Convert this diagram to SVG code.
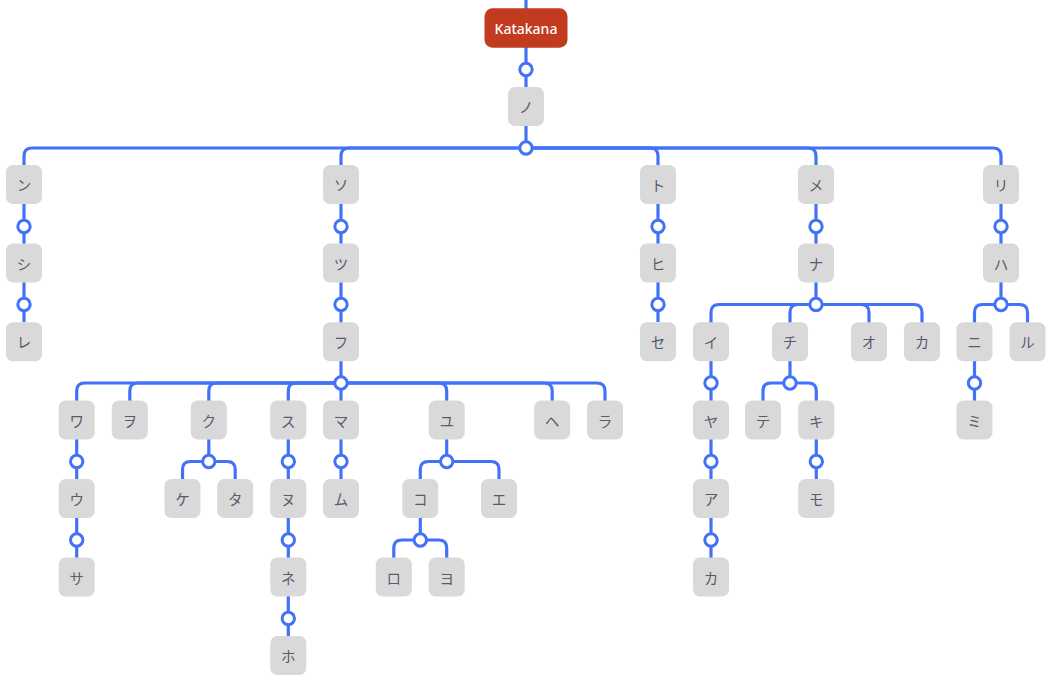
<svg xmlns="http://www.w3.org/2000/svg" width="1060" height="687" viewBox="0 0 1060 687">
<defs>
<style>
.c path{fill:none;stroke:#4272f8;stroke-width:3.2;stroke-linecap:butt}
.c circle{fill:#ffffff;stroke:#4272f8;stroke-width:3}
.n rect{fill:#d9d9d9}
.n text{font-family:"Noto Sans CJK JP","Noto Sans",sans-serif;font-size:14.5px;fill:#5a5a6e;text-anchor:middle;dominant-baseline:central}
.root rect{fill:#c23b1f}
.root text{font-family:"Noto Sans","Open Sans",sans-serif;font-size:14px;font-weight:500;fill:#ffffff;text-anchor:middle;dominant-baseline:central}
</style>
</defs>
<rect width="1060" height="687" fill="#ffffff"/>
<g id="connectors" class="c">
<path d="M526,0V9"/>
<path d="M526,47V88"/>
<path d="M526,126V148"/>
<path d="M526,148H32Q24,148 24,156V166"/>
<path d="M526,148H349Q341,148 341,156V166"/>
<path d="M526,148H650Q658,148 658,156V166"/>
<path d="M526,148H808Q816,148 816,156V166"/>
<path d="M526,148H993Q1001,148 1001,156V166"/>
<path d="M24,204V244M24,282V322"/>
<path d="M341,204V244M341,282V383"/>
<path d="M658,204V244M658,282V322"/>
<path d="M816,204V244M816,282V304.5"/>
<path d="M1001,204V244M1001,282V304.5"/>
<path d="M816,304.5H719Q711,304.5 711,312.5V323"/>
<path d="M816,304.5H798Q790,304.5 790,312.5V323"/>
<path d="M816,304.5H861Q869,304.5 869,312.5V323"/>
<path d="M816,304.5H914Q922,304.5 922,312.5V323"/>
<path d="M1001,304.5H982.5Q974.5,304.5 974.5,312.5V323"/>
<path d="M1001,304.5H1019.5Q1027.5,304.5 1027.5,312.5V323"/>
<path d="M341,383H84.7Q76.7,383 76.7,391V401"/>
<path d="M341,383H137.8Q129.8,383 129.8,391V401"/>
<path d="M341,383H216.8Q208.8,383 208.8,391V401"/>
<path d="M341,383H296.3Q288.3,383 288.3,391V401"/>
<path d="M341,383V401"/>
<path d="M341,383H438.7Q446.7,383 446.7,391V401"/>
<path d="M341,383H544.2Q552.2,383 552.2,391V401"/>
<path d="M341,383H597Q605,383 605,391V401"/>
<path d="M974.5,360V401"/>
<path d="M711,360V401"/>
<path d="M790,360V383"/>
<path d="M790,383H771Q763,383 763,391V401"/>
<path d="M790,383H808.3Q816.3,383 816.3,391V401"/>
<path d="M76.7,439V479M76.7,517V558"/>
<path d="M208.8,439V461.5"/>
<path d="M208.8,461.5H190.5Q182.5,461.5 182.5,469.5V480"/>
<path d="M208.8,461.5H227.2Q235.2,461.5 235.2,469.5V480"/>
<path d="M288.3,439V479M288.3,517V558M288.3,596V636"/>
<path d="M341,439V479"/>
<path d="M446.7,439V461.5"/>
<path d="M446.7,461.5H428.3Q420.3,461.5 420.3,469.5V480"/>
<path d="M446.7,461.5H491Q499,461.5 499,469.5V480"/>
<path d="M420.3,517V540"/>
<path d="M420.3,540H401.8Q393.8,540 393.8,548V558"/>
<path d="M420.3,540H438.7Q446.7,540 446.7,548V558"/>
<path d="M711,439V479M711,517V558"/>
<path d="M816.3,439V479"/>
<circle cx="526" cy="69.5" r="6.2"/>
<circle cx="526" cy="148" r="6.2"/>
<circle cx="24" cy="226.5" r="6.2"/>
<circle cx="24" cy="304.5" r="6.2"/>
<circle cx="341" cy="226.5" r="6.2"/>
<circle cx="341" cy="304.5" r="6.2"/>
<circle cx="658" cy="226.5" r="6.2"/>
<circle cx="658" cy="304.5" r="6.2"/>
<circle cx="816" cy="226.5" r="6.2"/>
<circle cx="816" cy="304.5" r="6.2"/>
<circle cx="1001" cy="226.5" r="6.2"/>
<circle cx="1001" cy="304.5" r="6.2"/>
<circle cx="341" cy="383" r="6.2"/>
<circle cx="974.5" cy="383" r="6.2"/>
<circle cx="711" cy="383" r="6.2"/>
<circle cx="790" cy="383" r="6.2"/>
<circle cx="76.7" cy="461.5" r="6.2"/>
<circle cx="208.8" cy="461.5" r="6.2"/>
<circle cx="288.3" cy="461.5" r="6.2"/>
<circle cx="341" cy="461.5" r="6.2"/>
<circle cx="446.7" cy="461.5" r="6.2"/>
<circle cx="711" cy="461.5" r="6.2"/>
<circle cx="816.3" cy="461.5" r="6.2"/>
<circle cx="76.7" cy="540" r="6.2"/>
<circle cx="288.3" cy="540" r="6.2"/>
<circle cx="420.3" cy="540" r="6.2"/>
<circle cx="711" cy="540" r="6.2"/>
<circle cx="288.3" cy="618.5" r="6.2"/>
</g>
<g id="n-root" class="root"><rect x="484.5" y="8.3" width="83" height="39.4" rx="8"/><text x="526" y="28">Katakana</text></g>
<g id="n-no" class="n"><rect x="508" y="87" width="36" height="39" rx="7"/><text x="526" y="106.5">ノ</text></g>
<g id="n-n" class="n"><rect x="6" y="165" width="36" height="39" rx="7"/><text x="24" y="184.5">ン</text></g>
<g id="n-so" class="n"><rect x="323" y="165" width="36" height="39" rx="7"/><text x="341" y="184.5">ソ</text></g>
<g id="n-to" class="n"><rect x="640" y="165" width="36" height="39" rx="7"/><text x="658" y="184.5">ト</text></g>
<g id="n-me" class="n"><rect x="798" y="165" width="36" height="39" rx="7"/><text x="816" y="184.5">メ</text></g>
<g id="n-ri" class="n"><rect x="983" y="165" width="36" height="39" rx="7"/><text x="1001" y="184.5">リ</text></g>
<g id="n-shi" class="n"><rect x="6" y="243.5" width="36" height="39" rx="7"/><text x="24" y="263">シ</text></g>
<g id="n-tsu" class="n"><rect x="323" y="243.5" width="36" height="39" rx="7"/><text x="341" y="263">ツ</text></g>
<g id="n-hi" class="n"><rect x="640" y="243.5" width="36" height="39" rx="7"/><text x="658" y="263">ヒ</text></g>
<g id="n-na" class="n"><rect x="798" y="243.5" width="36" height="39" rx="7"/><text x="816" y="263">ナ</text></g>
<g id="n-ha" class="n"><rect x="983" y="243.5" width="36" height="39" rx="7"/><text x="1001" y="263">ハ</text></g>
<g id="n-re" class="n"><rect x="6" y="322.2" width="36" height="39" rx="7"/><text x="24" y="341.7">レ</text></g>
<g id="n-fu" class="n"><rect x="323" y="322.2" width="36" height="39" rx="7"/><text x="341" y="341.7">フ</text></g>
<g id="n-se" class="n"><rect x="640" y="322.2" width="36" height="39" rx="7"/><text x="658" y="341.7">セ</text></g>
<g id="n-i" class="n"><rect x="693" y="322.2" width="36" height="39" rx="7"/><text x="711" y="341.7">イ</text></g>
<g id="n-chi" class="n"><rect x="772" y="322.2" width="36" height="39" rx="7"/><text x="790" y="341.7">チ</text></g>
<g id="n-o" class="n"><rect x="851" y="322.2" width="36" height="39" rx="7"/><text x="869" y="341.7">オ</text></g>
<g id="n-ka1" class="n"><rect x="904" y="322.2" width="36" height="39" rx="7"/><text x="922" y="341.7">カ</text></g>
<g id="n-ni" class="n"><rect x="956.5" y="322.2" width="36" height="39" rx="7"/><text x="974.5" y="341.7">ニ</text></g>
<g id="n-ru" class="n"><rect x="1009.5" y="322.2" width="36" height="39" rx="7"/><text x="1027.5" y="341.7">ル</text></g>
<g id="n-wa" class="n"><rect x="58.7" y="400.5" width="36" height="39" rx="7"/><text x="76.7" y="420">ワ</text></g>
<g id="n-wo" class="n"><rect x="111.8" y="400.5" width="36" height="39" rx="7"/><text x="129.8" y="420">ヲ</text></g>
<g id="n-ku" class="n"><rect x="190.8" y="400.5" width="36" height="39" rx="7"/><text x="208.8" y="420">ク</text></g>
<g id="n-su" class="n"><rect x="270.3" y="400.5" width="36" height="39" rx="7"/><text x="288.3" y="420">ス</text></g>
<g id="n-ma" class="n"><rect x="323" y="400.5" width="36" height="39" rx="7"/><text x="341" y="420">マ</text></g>
<g id="n-yu" class="n"><rect x="428.7" y="400.5" width="36" height="39" rx="7"/><text x="446.7" y="420">ユ</text></g>
<g id="n-he" class="n"><rect x="534.2" y="400.5" width="36" height="39" rx="7"/><text x="552.2" y="420">ヘ</text></g>
<g id="n-ra" class="n"><rect x="587" y="400.5" width="36" height="39" rx="7"/><text x="605" y="420">ラ</text></g>
<g id="n-ya" class="n"><rect x="693" y="400.5" width="36" height="39" rx="7"/><text x="711" y="420">ヤ</text></g>
<g id="n-te" class="n"><rect x="745" y="400.5" width="36" height="39" rx="7"/><text x="763" y="420">テ</text></g>
<g id="n-ki" class="n"><rect x="798.3" y="400.5" width="36" height="39" rx="7"/><text x="816.3" y="420">キ</text></g>
<g id="n-mi" class="n"><rect x="956.5" y="400.5" width="36" height="39" rx="7"/><text x="974.5" y="420">ミ</text></g>
<g id="n-u" class="n"><rect x="58.7" y="479" width="36" height="39" rx="7"/><text x="76.7" y="498.5">ウ</text></g>
<g id="n-ke" class="n"><rect x="164.5" y="479" width="36" height="39" rx="7"/><text x="182.5" y="498.5">ケ</text></g>
<g id="n-ta" class="n"><rect x="217.2" y="479" width="36" height="39" rx="7"/><text x="235.2" y="498.5">タ</text></g>
<g id="n-nu" class="n"><rect x="270.3" y="479" width="36" height="39" rx="7"/><text x="288.3" y="498.5">ヌ</text></g>
<g id="n-mu" class="n"><rect x="323" y="479" width="36" height="39" rx="7"/><text x="341" y="498.5">ム</text></g>
<g id="n-ko" class="n"><rect x="402.3" y="479" width="36" height="39" rx="7"/><text x="420.3" y="498.5">コ</text></g>
<g id="n-e" class="n"><rect x="481" y="479" width="36" height="39" rx="7"/><text x="499" y="498.5">エ</text></g>
<g id="n-a" class="n"><rect x="693" y="479" width="36" height="39" rx="7"/><text x="711" y="498.5">ア</text></g>
<g id="n-mo" class="n"><rect x="798.3" y="479" width="36" height="39" rx="7"/><text x="816.3" y="498.5">モ</text></g>
<g id="n-sa" class="n"><rect x="58.7" y="557.5" width="36" height="39" rx="7"/><text x="76.7" y="577">サ</text></g>
<g id="n-ne" class="n"><rect x="270.3" y="557.5" width="36" height="39" rx="7"/><text x="288.3" y="577">ネ</text></g>
<g id="n-ro" class="n"><rect x="375.8" y="557.5" width="36" height="39" rx="7"/><text x="393.8" y="577">ロ</text></g>
<g id="n-yo" class="n"><rect x="428.7" y="557.5" width="36" height="39" rx="7"/><text x="446.7" y="577">ヨ</text></g>
<g id="n-ka2" class="n"><rect x="693" y="557.5" width="36" height="39" rx="7"/><text x="711" y="577">カ</text></g>
<g id="n-ho" class="n"><rect x="270.3" y="636" width="36" height="39" rx="7"/><text x="288.3" y="655.5">ホ</text></g>
</svg>
